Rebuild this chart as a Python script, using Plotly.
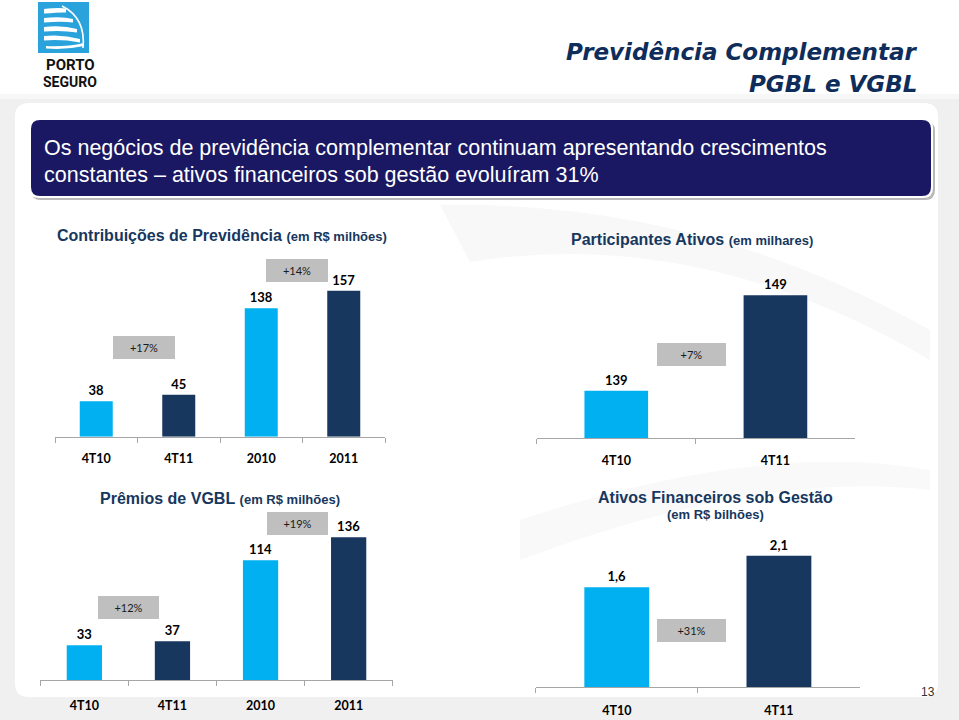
import plotly.graph_objects as go

W, H = 959, 720

# ---------------- data ----------------
contrib_cats = ["4T10", "4T11", "2010", "2011"]
contrib_vals = [38, 45, 138, 157]
contrib_growth = ["+17%", "+14%"]

partic_cats = ["4T10", "4T11"]
partic_vals = [139, 149]
partic_growth = ["+7%"]

vgbl_cats = ["4T10", "4T11", "2010", "2011"]
vgbl_vals = [33, 37, 114, 136]
vgbl_growth = ["+12%", "+19%"]

ativos_cats = ["4T10", "4T11"]
ativos_vals = [1.6, 2.1]
ativos_labels = ["1,6", "2,1"]
ativos_growth = ["+31%"]

LIGHT = "#00b0f0"
DARK = "#17375e"
TITLE_C = "#17375e"
NUM_FONT = "Lato, Carlito, Liberation Sans, sans-serif"
ARIAL = "Liberation Sans, Arial, sans-serif"


def px(x):
    return x / W


def py(y):
    return 1 - y / H


fig = go.Figure()

# panel geometry: (suffix, x0, x1, axis_y, top_y, ymin, px_per_unit)
panels = [
    ("", 55, 385, 436.7, 262, 0, 0.93),
    ("2", 536.7, 855, 438.3, 275, 134, 9.53),
    ("3", 40.3, 392.7, 680, 520, 0, 1.05),
    ("4", 535.7, 860, 687.3, 540, 0, 62.6),
]
series = [
    (contrib_cats, contrib_vals, [str(v) for v in contrib_vals]),
    (partic_cats, partic_vals, [str(v) for v in partic_vals]),
    (vgbl_cats, vgbl_vals, [str(v) for v in vgbl_vals]),
    (ativos_cats, ativos_vals, ativos_labels),
]
standoffs = [10, 11, 14, 12]

for (suf, x0, x1, ay, ty, ymin, ppu), (cats, vals, labels), so in zip(panels, series, standoffs):
    colors = [LIGHT if i % 2 == 0 else DARK for i in range(len(cats))]
    fig.add_trace(go.Bar(
        x=cats, y=vals, text=labels, textposition="outside",
        marker=dict(color=colors, line=dict(width=0)),
        width=0.4, constraintext="none",
        outsidetextfont=dict(family=NUM_FONT, size=13, color="#000000", weight="bold"),
        xaxis="x" + suf, yaxis="y" + suf, showlegend=False, hoverinfo="skip",
    ))
    ymax = ymin + (ay - ty) / ppu
    fig.layout["xaxis" + suf] = dict(
        domain=[px(x0), px(x1)], anchor="y" + suf, type="category",
        range=[-0.5, len(cats) - 0.5], showline=True, linecolor="#a6a6a6", linewidth=1,
        ticks="outside", tickson="boundaries", ticklen=5, tickcolor="#a6a6a6",
        showgrid=False, zeroline=False, fixedrange=True, ticklabelstandoff=so,
        tickfont=dict(family=NUM_FONT, size=12.5, color="#000000", weight="bold"),
    )
    fig.layout["yaxis" + suf] = dict(
        domain=[py(ay), py(ty)], anchor="x" + suf, range=[ymin, ymax],
        visible=False, showgrid=False, zeroline=False, fixedrange=True,
    )

annotations = []

# growth boxes: (axis ref, category position, y px, width, height, text)
growth_boxes = [
    ("x", 0.573, 347, 62, 23, contrib_growth[0]),
    ("x", 2.431, 270.3, 62, 23, contrib_growth[1]),
    ("x2", 0.474, 354.7, 69, 23, partic_growth[0]),
    ("x3", 0.499, 607.7, 61, 23, vgbl_growth[0]),
    ("x3", 2.414, 523.7, 61, 23, vgbl_growth[1]),
    ("x4", 0.462, 630.8, 69, 23, ativos_growth[0]),
]
for xr, xc, yc, w, h, t in growth_boxes:
    annotations.append(dict(
        xref=xr, yref="paper", x=xc, y=py(yc), text=t, showarrow=False,
        width=w, height=h, bgcolor="#bfbfbf", borderpad=0, borderwidth=0,
        font=dict(family=NUM_FONT, size=11, color="#1a1a1a"),
        xanchor="center", yanchor="middle", align="center", valign="middle",
    ))


# chart titles
def title(x, y, main, sub, xanchor="center", size=16, subsize=13):
    s = f"<b>{main}</b>"
    if sub:
        s += f" <b><span style='font-size:{subsize}px'>{sub}</span></b>"
    annotations.append(dict(
        xref="paper", yref="paper", x=px(x), y=py(y), text=s, showarrow=False,
        xanchor=xanchor, yanchor="middle",
        font=dict(family=ARIAL, size=size, color=TITLE_C),
    ))


title(55, 236, "Contribuições de Previdência", "(em R$ milhões)", xanchor="left")
title(692, 240, "Participantes Ativos", "(em milhares)")
title(220, 498, "Prêmios de VGBL", "(em R$ milhões)")
title(715, 497, "Ativos Financeiros sob Gestão", None)
annotations.append(dict(
    xref="paper", yref="paper", x=px(715), y=py(514), text="<b>(em R$ bilhões)</b>",
    showarrow=False, xanchor="center", yanchor="middle",
    font=dict(family=ARIAL, size=13, color=TITLE_C),
))

# header title
for yv, t in [(52, "Previdência Complementar"), (84, "PGBL e VGBL")]:
    annotations.append(dict(
        xref="paper", yref="paper", x=px(919), y=py(yv), text=f"<b><i>{t}</i></b>",
        showarrow=False, xanchor="right", yanchor="middle",
        font=dict(family="DejaVu Sans, Verdana, sans-serif", size=23, color="#0f2d5a"),
    ))

# banner text
for yv, t in [(148, "Os negócios de previdência complementar continuam apresentando crescimentos"),
              (175, "constantes – ativos financeiros sob gestão evoluíram 31%")]:
    annotations.append(dict(
        xref="paper", yref="paper", x=px(42), y=py(yv), text=t, showarrow=False,
        xanchor="left", yanchor="middle",
        font=dict(family=ARIAL, size=21.5, color="#ffffff"),
    ))

# logo text
for yv, t, fs in [(64.5, "PORTO", 15), (81.5, "SEGURO", 14)]:
    annotations.append(dict(
        xref="paper", yref="paper", x=px(70), y=py(yv), text=f"<b>{t}</b>", showarrow=False,
        xanchor="center", yanchor="middle",
        font=dict(family="Roboto, Liberation Sans, Arial, sans-serif", size=fs, color="#111111"),
    ))

# page number
annotations.append(dict(
    xref="paper", yref="paper", x=px(928), y=py(692), text="13", showarrow=False,
    xanchor="center", yanchor="middle",
    font=dict(family=ARIAL, size=12, color="#333333"),
))


# ---------------- decorative shapes ----------------
def rrect(x0, y0, x1, y1, r):
    X = lambda v: px(v)
    Y = lambda v: py(v)
    return (f"M {X(x0 + r)} {Y(y0)} L {X(x1 - r)} {Y(y0)} Q {X(x1)} {Y(y0)} {X(x1)} {Y(y0 + r)} "
            f"L {X(x1)} {Y(y1 - r)} Q {X(x1)} {Y(y1)} {X(x1 - r)} {Y(y1)} "
            f"L {X(x0 + r)} {Y(y1)} Q {X(x0)} {Y(y1)} {X(x0)} {Y(y1 - r)} "
            f"L {X(x0)} {Y(y0 + r)} Q {X(x0)} {Y(y0)} {X(x0 + r)} {Y(y0)} Z")


def ppath(d):
    out = []
    for item in d:
        cmd = item[0]
        pts = item[1:]
        s = cmd
        for i in range(0, len(pts), 2):
            s += f" {px(pts[i])} {py(pts[i + 1])}"
        out.append(s)
    return " ".join(out)


shapes = []
shapes.append(dict(type="rect", xref="paper", yref="paper", x0=0, x1=1, y0=0, y1=py(94),
                   fillcolor="#f7f7f7", line=dict(width=0), layer="below"))
shapes.append(dict(type="rect", xref="paper", yref="paper", x0=0, x1=1, y0=0, y1=py(99),
                   fillcolor="#f0f0f0", line=dict(width=0), layer="below"))
shapes.append(dict(type="path", xref="paper", yref="paper", path=rrect(15, 103, 938, 697, 14),
                   fillcolor="#ffffff", line=dict(width=0), layer="below"))
shapes.append(dict(type="path", xref="paper", yref="paper",
                   path=ppath([("M", 440, 205), ("Q", 700, 200, 930, 330), ("L", 930, 360),
                               ("Q", 700, 225, 470, 262), ("Z",)]),
                   fillcolor="#f8f8f8", line=dict(width=0), layer="below"))
shapes.append(dict(type="path", xref="paper", yref="paper",
                   path=ppath([("M", 520, 520), ("Q", 760, 440, 930, 470), ("L", 930, 490),
                               ("Q", 760, 470, 520, 560), ("Z",)]),
                   fillcolor="#f9f9f9", line=dict(width=0), layer="below"))
shapes.append(dict(type="path", xref="paper", yref="paper", path=rrect(31, 121, 935, 200, 10),
                   fillcolor="#b8b8b8", line=dict(width=0), layer="below"))
shapes.append(dict(type="path", xref="paper", yref="paper", path=rrect(29, 118, 933, 198, 10),
                   fillcolor="#ffffff", line=dict(width=0), layer="below"))
shapes.append(dict(type="path", xref="paper", yref="paper", path=rrect(31, 120, 931, 196, 9),
                   fillcolor="#1a1862", line=dict(width=0), layer="below"))

# logo
shapes.append(dict(type="rect", xref="paper", yref="paper", x0=px(38), x1=px(89), y0=py(53), y1=py(2),
                   fillcolor="#2aa2dc", line=dict(width=0), layer="below"))
stripes = [(9, 66, 10), (18, 73, 20), (27, 77, 30), (36, 80, 40)]
for y0, xr, yr in stripes:
    shapes.append(dict(type="path", xref="paper", yref="paper",
                       path=ppath([("M", 44, y0), ("Q", 62, y0 - 2, xr, yr - 1), ("L", xr, yr + 2.5),
                                   ("Q", 62, y0 + 3, 44, y0 + 4.5), ("Z",)]),
                       fillcolor="#ffffff", line=dict(width=0), layer="below"))
shapes.append(dict(type="path", xref="paper", yref="paper",
                   path=ppath([("M", 62, 6), ("Q", 86, 18, 83, 48)]),
                   line=dict(color="#ffffff", width=1.6), layer="below"))
shapes.append(dict(type="path", xref="paper", yref="paper",
                   path=ppath([("M", 46, 46), ("Q", 66, 47, 84, 43), ("L", 84, 46), ("Q", 66, 50, 46, 48.5), ("Z",)]),
                   fillcolor="#ffffff", line=dict(width=0), layer="below"))

fig.update_layout(
    width=W, height=H, autosize=False,
    margin=dict(l=0, r=0, t=0, b=0, pad=0),
    paper_bgcolor="#ffffff", plot_bgcolor="rgba(0,0,0,0)",
    annotations=annotations, shapes=shapes, showlegend=False,
)

fig.write_html(
    "out.html",
    config={"displayModeBar": False},
    post_script="document.body.style.margin='0px';document.body.style.padding='0px';document.body.style.overflow='hidden';",
)
